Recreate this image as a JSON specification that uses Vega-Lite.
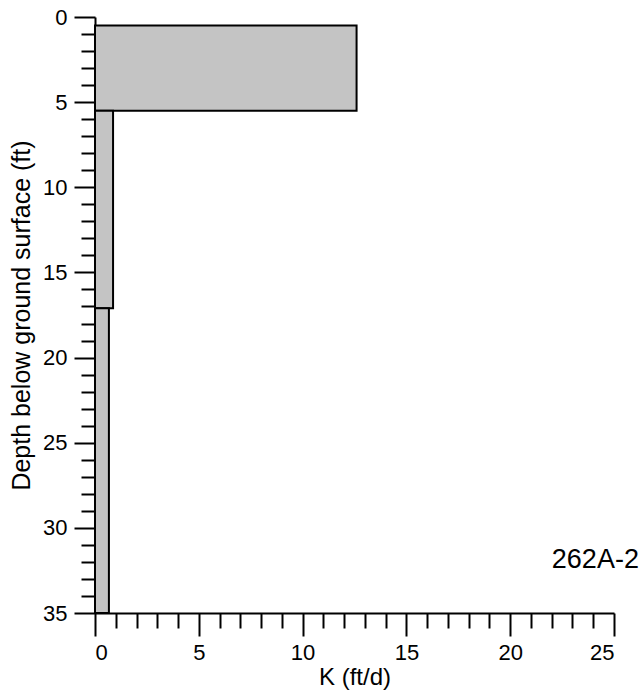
{
  "$schema": "https://vega.github.io/schema/vega-lite/v6.json",
  "autosize": "none",
  "width": 519,
  "height": 596,
  "padding": {"left": 95, "top": 17, "right": 28, "bottom": 85},
  "background": "white",
  "config": {
    "view": {"stroke": null},
    "font": "Liberation Sans",
    "axis": {
      "domainColor": "black",
      "domainWidth": 2,
      "tickColor": "black",
      "tickWidth": 2,
      "labelColor": "black",
      "titleColor": "black",
      "labelFont": "Liberation Sans",
      "titleFont": "Liberation Sans",
      "labelFontSize": 22,
      "titleFontSize": 24,
      "titleFontWeight": "normal",
      "grid": false,
      "labelOverlap": false,
      "format": "d",
      "tickCount": 60
    }
  },
  "datasets": {
    "layers": [
      {"top": 0.5, "bottom": 5.5, "k": 12.6},
      {"top": 5.5, "bottom": 17.1, "k": 0.87},
      {"top": 17.1, "bottom": 35, "k": 0.67}
    ],
    "tag": [
      {"label": "262A-2", "k": 26.2, "depth": 32.35}
    ]
  },
  "layer": [
    {
      "data": {"name": "layers"},
      "mark": {"type": "rect", "fill": "#c4c4c4", "stroke": "black", "strokeWidth": 2},
      "encoding": {
        "x": {
          "field": "k",
          "type": "quantitative",
          "scale": {"domain": [0, 25], "nice": false, "zero": true},
          "axis": {
            "title": "K (ft/d)",
            "format": "d",
            "tickCount": 60,
            "values": [0,1,2,3,4,5,6,7,8,9,10,11,12,13,14,15,16,17,18,19,20,21,22,23,24,25],
            "labelExpr": "datum.value % 5 === 0 ? datum.label : ''",
            "tickSize": {"condition": {"test": "datum.value % 5 === 0", "value": 23}, "value": 15},
            "labelPadding": 6,
            "titlePadding": 2
          }
        },
        "x2": {"datum": 0},
        "y": {
          "field": "top",
          "type": "quantitative",
          "scale": {"domain": [0, 35], "nice": false, "reverse": true},
          "axis": {
            "title": "Depth below ground surface (ft)",
            "titleFontSize": 25,
            "format": "d",
            "tickCount": 60,
            "values": [0,1,2,3,4,5,6,7,8,9,10,11,12,13,14,15,16,17,18,19,20,21,22,23,24,25,26,27,28,29,30,31,32,33,34,35],
            "labelExpr": "datum.value % 5 === 0 ? datum.label : ''",
            "tickSize": {"condition": {"test": "datum.value % 5 === 0", "value": 21}, "value": 14},
            "labelPadding": 7,
            "titlePadding": 8
          }
        },
        "y2": {"field": "bottom"}
      }
    },
    {
      "data": {"name": "tag"},
      "mark": {"type": "text", "align": "right", "baseline": "alphabetic", "fontSize": 27, "color": "black", "clip": false},
      "encoding": {
        "x": {"field": "k", "type": "quantitative"},
        "y": {"field": "depth", "type": "quantitative"},
        "text": {"field": "label"}
      }
    }
  ]
}
